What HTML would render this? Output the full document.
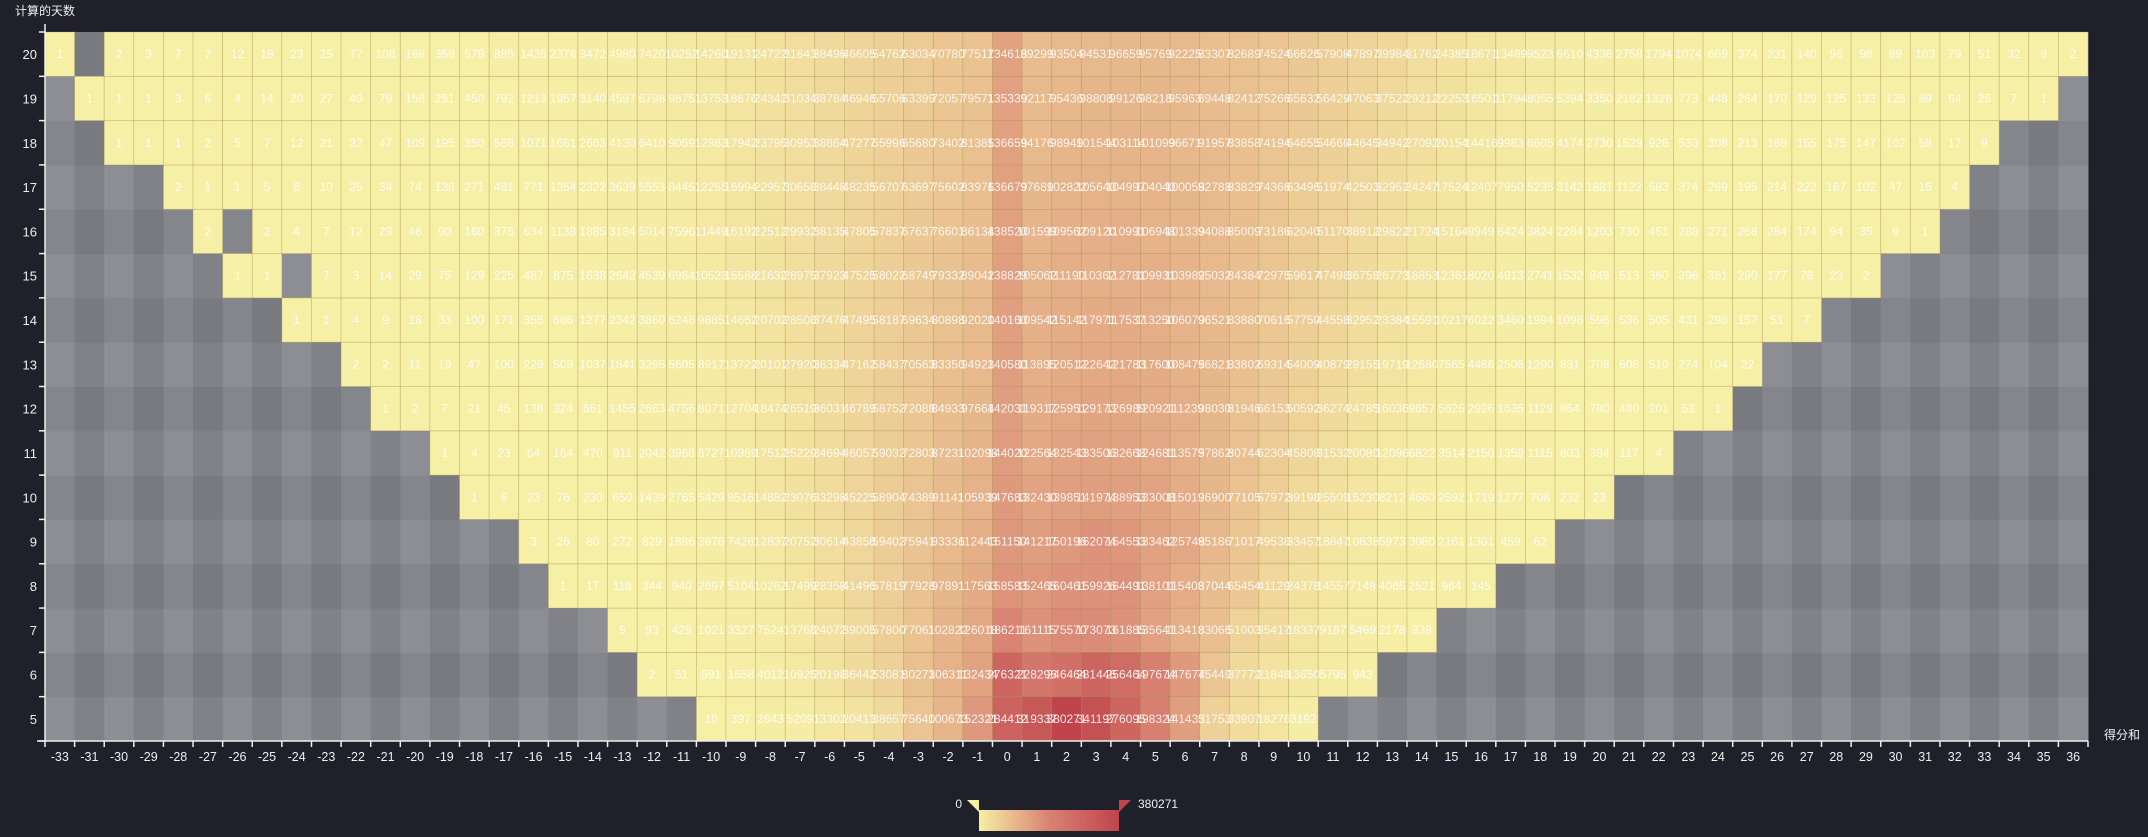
<!DOCTYPE html>
<html><head><meta charset="utf-8"><style>
html,body{margin:0;padding:0;background:#20202b;}
svg{display:block;font-family:"Liberation Sans","Noto Sans CJK SC",sans-serif;}
</style></head><body>
<svg id="chart" width="2148" height="837" viewBox="0 0 2148 837" xmlns="http://www.w3.org/2000/svg">
<rect width="2148" height="837" fill="#20202b"/>
<text x="15" y="15" fill="#eeeeee" font-size="12">计算的天数</text>
<text x="2104" y="739" fill="#eeeeee" font-size="12">得分和</text>
<g id="cells"></g>
<g id="axes"></g>
<g id="legend">
<defs><linearGradient id="lg" x1="0" x2="1" y1="0" y2="0"><stop offset="0" stop-color="#f6efa6"/><stop offset="0.5" stop-color="#d88273"/><stop offset="1" stop-color="#bf444c"/></linearGradient></defs>
<rect x="979" y="810" width="140" height="21" fill="url(#lg)"/>
<polygon points="967,800 979,800 979,812" fill="#f6efa6"/>
<polygon points="1119,812 1119,800 1131,800" fill="#bf444c"/>
<text x="962" y="808" fill="#eeeeee" font-size="12" text-anchor="end">0</text>
<text x="1138" y="808" fill="#eeeeee" font-size="12">380271</text>
</g>
</svg>
<script>
const xCats = [-33,-31,-30,-29,-28,-27,-26,-25,-24,-23,-22,-21,-20,-19,-18,-17,-16,-15,-14,-13,-12,-11,-10,-9,-8,-7,-6,-5,-4,-3,-2,-1,0,1,2,3,4,5,6,7,8,9,10,11,12,13,14,15,16,17,18,19,20,21,22,23,24,25,26,27,28,29,30,31,32,33,34,35,36];
const yCats = [5,6,7,8,9,10,11,12,13,14,15,16,17,18,19,20];
const maxValue = 380271;
const N = null;
function pad(lead, vals, total){const a=[];for(let i=0;i<lead;i++)a.push(N);for(const v of vals)a.push(v);while(a.length<total)a.push(N);return a;}
const row20 = [1,N,2,3,7,7,12,18,23,25,77,108,188,358,578,885,1435,2378,3472,4980,7420,10252,14260,19131,24722,31643,38496,46605,54762,63034,70780,77517,134618,89299,93504,94531,96659,95769,92225,83307,82689,74524,66626,57908,47897,39984,31762,24385,18671,13489,9523,6610,4336,2758,1794,1074,669,374,231,140,96,98,89,103,79,51,32,9,2];
const row19 = [N,1,1,1,3,6,4,14,20,27,40,79,156,251,450,792,1213,1957,3140,4597,6798,9875,13753,18676,24342,31034,38784,46946,55706,63399,72057,79571,135339,92117,95436,98808,99126,98218,95963,89448,82412,75266,65632,56429,47063,37522,29212,22253,16501,11794,8055,5394,3350,2182,1326,773,448,264,170,129,125,133,125,89,64,25,7,1,N];
const row18 = [N,N,1,1,1,2,5,7,12,21,32,47,109,195,350,568,1071,1661,2663,4130,6410,9069,12883,17942,23795,30953,38864,47277,55996,65680,73402,81385,136659,94176,98949,101544,103114,101099,96671,91957,83858,74194,64655,54666,44645,34942,27092,20154,14416,9983,6605,4174,2730,1529,926,533,308,213,169,155,175,147,102,58,17,9,N,N,N];
const row17 = [N,N,N,N,2,1,1,5,8,10,25,34,74,138,271,481,771,1354,2322,3639,5553,8445,12255,16994,22957,30658,38448,48235,56707,63697,75602,83976,136679,97689,102822,105640,104997,104040,100058,92788,83829,74366,63496,51974,42503,32952,24247,17524,12407,7950,5235,3142,1881,1122,583,374,269,195,214,222,167,102,47,16,4,N,N,N,N];
const row16 = [N,N,N,N,N,2,N,2,4,7,12,29,46,90,160,376,634,1138,1885,3184,5014,7596,11449,16192,22512,29932,38135,47805,57837,67637,76601,86134,138520,101599,109562,109120,110991,106948,101339,94088,85009,73186,62040,51170,38912,29822,21724,15164,9949,6424,3824,2284,1203,730,451,288,271,268,284,174,94,35,9,1,N,N,N,N,N];
const row15 = [N,N,N,N,N,N,1,1,N,7,3,14,29,75,129,225,487,875,1638,2642,4539,6964,10523,15588,21632,28975,37923,47525,58022,68749,79332,89042,138829,105062,111190,110362,112781,109931,103982,95032,84384,72975,59617,47498,36758,26773,18853,12361,8020,4913,2741,1532,849,513,360,396,361,290,177,76,23,2,N,N,N,N,N,N,N];
const row14 = pad(8,[1,1,4,9,18,33,100,171,355,686,1277,2342,3860,6248,9885,14662,20702,28508,37476,47495,58187,69634,80898,92020,140160,109542,115142,117971,117537,113250,106079,96521,83880,70616,57750,44558,32952,23384,15591,10217,6022,3460,1994,1098,596,536,505,431,298,157,51,7],69);
const row13 = pad(10,[2,2,11,19,47,100,229,509,1037,1841,3295,5605,8917,13722,20101,27920,36334,47162,58437,70563,83350,94923,140580,113895,120512,122642,121783,117600,108475,96821,83802,69314,54009,40879,29155,19719,12680,7565,4466,2506,1290,831,708,606,510,274,104,22],69);
const row12 = pad(11,[1,2,7,21,45,138,324,661,1455,2663,4756,8071,12704,18474,26519,36031,46789,58752,72088,84933,97664,142031,119317,125951,129173,126989,120921,111239,98030,81946,66153,50592,36274,24785,16036,9657,5625,2926,1635,1129,864,780,480,201,53,1],69);
const row11 = pad(13,[1,4,23,64,164,470,911,2042,3968,6727,10989,17512,25229,34694,46057,59032,72803,87231,102098,144020,122564,132543,133506,132668,124681,113575,97862,80744,62304,45808,31532,20080,12096,6822,3514,2150,1359,1115,803,384,117,4],69);
const row10 = pad(14,[1,6,23,76,230,650,1439,2765,5429,9516,14882,23076,33298,45225,58904,74389,91141,105939,147683,132430,139851,141974,138953,133008,115019,96900,77105,57972,39198,25509,15230,8212,4660,2592,1719,1277,708,232,23],69);
const row9 = pad(16,[3,26,80,272,829,1886,3878,7426,12837,20752,30614,43858,59402,75941,93336,112443,151150,141217,150196,162074,154553,133462,125748,95186,71017,49538,33457,18847,10838,5973,3080,2161,1301,459,62],69);
const row8 = pad(17,[1,17,118,344,940,2697,5104,10262,17499,28358,41496,57819,77928,97891,117563,158583,152465,160461,159926,164491,138101,115408,87044,65454,41129,24378,14557,7148,4065,2521,964,145],69);
const row7 = pad(19,[5,93,429,1021,3327,7524,13768,24072,39005,57800,77061,102822,126018,186211,161115,175570,173073,161885,135641,113418,83066,51003,35417,18337,9187,5469,2178,339],69);
const row6 = pad(20,[2,51,591,1658,4012,10925,20198,36442,53081,80273,106311,132434,276321,228296,246464,281446,256464,197674,147674,75449,37772,21848,13650,5795,943],69);
const row5 = pad(22,[10,397,2643,5209,13302,20413,38657,75640,100673,152321,284412,319337,380271,341197,276095,198324,141433,51753,33907,18276,3192],69);
const rows = [row5,row6,row7,row8,row9,row10,row11,row12,row13,row14,row15,row16,row17,row18,row19,row20];

const L=45, R=2088, T=32, B=741;
const cw=(R-L)/xCats.length, ch=(B-T)/yCats.length;
function xPos(i){return L+i*cw;}
function yPos(j){return B-(j+1)*ch;}
function lerp(a,b,t){return Math.round(a+(b-a)*t);}
const stops=[[246,239,166],[216,130,115],[191,68,76]];
function colorFor(v){let t=Math.max(0,Math.min(1,v/maxValue));let k=t<0.5?0:1;let u=t<0.5?t*2:(t-0.5)*2;const a=stops[k],b=stops[k+1];return `rgb(${lerp(a[0],b[0],u)},${lerp(a[1],b[1],u)},${lerp(a[2],b[2],u)})`;}
const NS="http://www.w3.org/2000/svg";
const cells=document.getElementById('cells');
const axes=document.getElementById('axes');
// split area background
for(let j=0;j<yCats.length;j++){for(let i=0;i<xCats.length;i++){
  const g=130+(i%2===0?7:-5)+(j%2===0?4:-4);
  const r=document.createElementNS(NS,'rect');
  r.setAttribute('x',xPos(i));r.setAttribute('y',yPos(j));r.setAttribute('width',cw+0.5);r.setAttribute('height',ch+0.5);
  r.setAttribute('fill',`rgb(${g},${g},${g+7})`);
  
  
  cells.appendChild(r);
}}
// heat cells
for(let j=0;j<yCats.length;j++){for(let i=0;i<xCats.length;i++){
  const v=rows[j][i]; if(v===null||v===undefined) continue;
  const r=document.createElementNS(NS,'rect');
  r.setAttribute('x',xPos(i));r.setAttribute('y',yPos(j));r.setAttribute('width',cw);r.setAttribute('height',ch);
  r.setAttribute('fill',colorFor(v));r.setAttribute('stroke','rgba(170,150,70,0.35)');r.setAttribute('stroke-width','0.8');
  
  
  cells.appendChild(r);
}}
for(let j=0;j<yCats.length;j++){for(let i=0;i<xCats.length;i++){
  const v=rows[j][i]; if(v===null||v===undefined) continue;
  const t=document.createElementNS(NS,'text');
  t.setAttribute('x',xPos(i)+cw/2);t.setAttribute('y',yPos(j)+ch/2+4);
  t.setAttribute('text-anchor','middle');t.setAttribute('font-size','12');t.setAttribute('fill','#ffffff');t.setAttribute('fill-opacity','0.85');
  t.textContent=v;
  
  
  cells.appendChild(t);
}}
// axes
function line(x1,y1,x2,y2,name){const l=document.createElementNS(NS,'line');l.setAttribute('x1',x1);l.setAttribute('y1',y1);l.setAttribute('x2',x2);l.setAttribute('y2',y2);l.setAttribute('stroke','#eeeeee');l.setAttribute('stroke-width','1.5');
  
  
  axes.appendChild(l);}
line(L,T-8,L,B,'y-axis-line');
line(L-8,B,R,B,'x-axis-line');
for(let j=0;j<=yCats.length;j++){line(L-6,B-j*ch,L,B-j*ch,'y-tick');}
for(let i=0;i<=xCats.length;i++){line(xPos(i),B,xPos(i),B+6,'x-tick');}
for(let j=0;j<yCats.length;j++){const t=document.createElementNS(NS,'text');t.setAttribute('x',L-8);t.setAttribute('y',yPos(j)+ch/2+5);t.setAttribute('text-anchor','end');t.setAttribute('font-size','13');t.setAttribute('fill','#eeeeee');t.textContent=yCats[j];
  
  
  axes.appendChild(t);}
for(let i=0;i<xCats.length;i++){const t=document.createElementNS(NS,'text');t.setAttribute('x',xPos(i)+cw/2);t.setAttribute('y',B+20);t.setAttribute('text-anchor','middle');t.setAttribute('font-size','12.5');t.setAttribute('fill','#eeeeee');t.textContent=xCats[i];
  
  
  axes.appendChild(t);}
</script>
</body></html>
